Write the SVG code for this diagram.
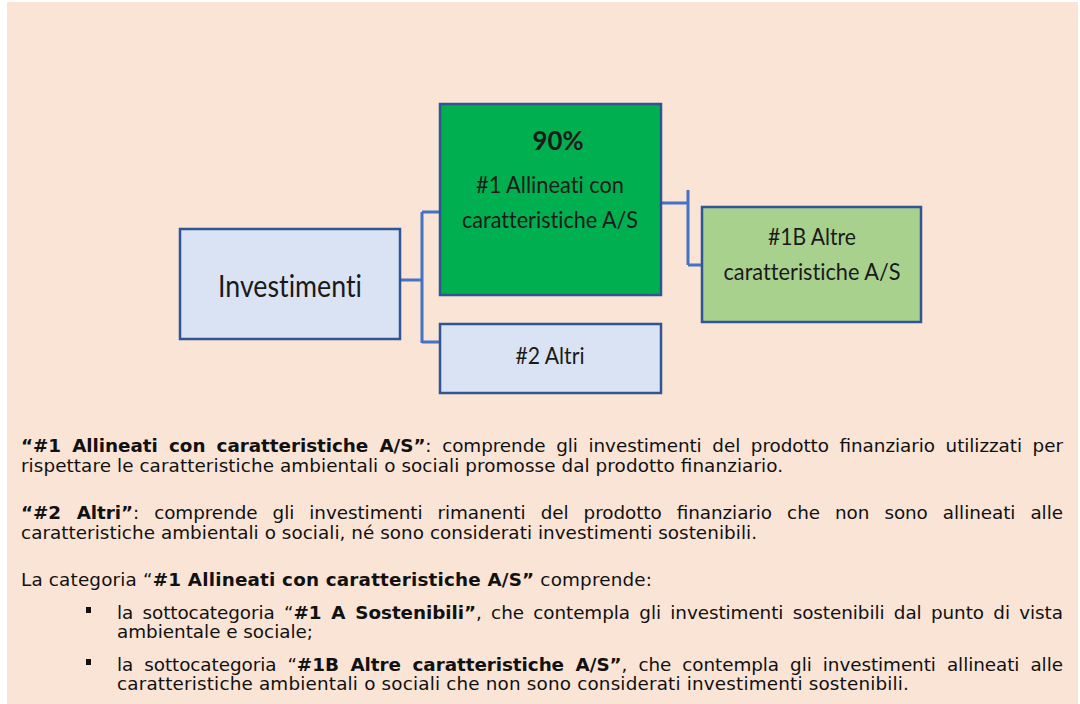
<svg xmlns="http://www.w3.org/2000/svg" width="1080" height="704" viewBox="0 0 1080 704">
<style>
.box{stroke:#2F5597;stroke-width:2.5}
.lbl{font-family:Lato,"Open Sans",sans-serif;fill:#1a1a1a;text-anchor:middle;font-variant-ligatures:none}
.con{fill:none;stroke:#4472C4;stroke-width:3}
.p{font-family:"DejaVu Sans",Verdana,sans-serif;font-size:17px;fill:#111}
.b{font-weight:bold}
</style>
<rect x="0" y="0" width="1080" height="704" fill="#ffffff"/>
<rect x="7" y="2" width="1071" height="702" fill="#FAE4D5"/>
<g id="connectors">
<path class="con" d="M400 280 H422 M422 212 V343 M422 212 H440 M422 342 H440"/>
<path class="con" d="M661 203 H688 M688 190 V265 M688 265 H703"/>
</g>
<g id="investimenti">
<rect class="box" x="180" y="229" width="220" height="110" fill="#DAE3F3"/>
<text class="lbl" x="290" y="297" font-size="31" textLength="144" lengthAdjust="spacingAndGlyphs">Investimenti</text>
</g>
<g id="allineati">
<rect class="box" x="440" y="104" width="221" height="191" fill="#00B050"/>
<text class="lbl" x="558" y="150" font-size="26" font-weight="bold" textLength="51" lengthAdjust="spacingAndGlyphs">90%</text>
<text class="lbl" x="550" y="193" font-size="24" textLength="148" lengthAdjust="spacingAndGlyphs">#1 Allineati con</text>
<text class="lbl" x="550" y="228" font-size="24" textLength="176" lengthAdjust="spacingAndGlyphs">caratteristiche A/S</text>
</g>
<g id="altre">
<rect class="box" x="702" y="207" width="219" height="115" fill="#A9D18E"/>
<text class="lbl" x="812" y="245" font-size="24" textLength="88" lengthAdjust="spacingAndGlyphs">#1B Altre</text>
<text class="lbl" x="812" y="280" font-size="24" textLength="177" lengthAdjust="spacingAndGlyphs">caratteristiche A/S</text>
</g>
<g id="altri">
<rect class="box" x="440" y="324" width="221" height="69" fill="#DAE3F3"/>
<text class="lbl" x="550" y="364" font-size="24" textLength="69" lengthAdjust="spacingAndGlyphs">#2 Altri</text>
</g>
<g id="text">
<rect x="86" y="607" width="5" height="6" fill="#111"/>
<rect x="86" y="659" width="5" height="6" fill="#111"/>
<g transform="matrix(1.08 0 0 1 0 0)">
<text class="p" x="19.44" y="452" word-spacing="4.5" textLength="964.8" lengthAdjust="spacing"><tspan class="b">“#1 Allineati con caratteristiche A/S”</tspan>: comprende gli investimenti del prodotto finanziario utilizzati per</text>
<text class="p" x="19.44" y="472" textLength="705.6" lengthAdjust="spacing">rispettare le caratteristiche ambientali o sociali promosse dal prodotto finanziario.</text>
<text class="p" x="19.44" y="519" word-spacing="8.6" textLength="964.8" lengthAdjust="spacing"><tspan class="b">“#2 Altri”</tspan>: comprende gli investimenti rimanenti del prodotto finanziario che non sono allineati alle</text>
<text class="p" x="19.44" y="539" textLength="681.5" lengthAdjust="spacing">caratteristiche ambientali o sociali, né sono considerati investimenti sostenibili.</text>
<text class="p" x="19.44" y="586" textLength="584.3" lengthAdjust="spacing">La categoria “<tspan class="b">#1 Allineati con caratteristiche A/S”</tspan> comprende:</text>
<text class="p" x="108.33" y="619" word-spacing="3.3" textLength="875.9" lengthAdjust="spacing">la sottocategoria “<tspan class="b">#1 A Sostenibili”</tspan>, che contempla gli investimenti sostenibili dal punto di vista</text>
<text class="p" x="108.33" y="638" textLength="181.5" lengthAdjust="spacing">ambientale e sociale;</text>
<text class="p" x="108.33" y="671" word-spacing="4.9" textLength="875.9" lengthAdjust="spacing">la sottocategoria “<tspan class="b">#1B Altre caratteristiche A/S”</tspan>, che contempla gli investimenti allineati alle</text>
<text class="p" x="108.33" y="690" textLength="733.3" lengthAdjust="spacing">caratteristiche ambientali o sociali che non sono considerati investimenti sostenibili.</text>
</g>
</g>
</svg>
